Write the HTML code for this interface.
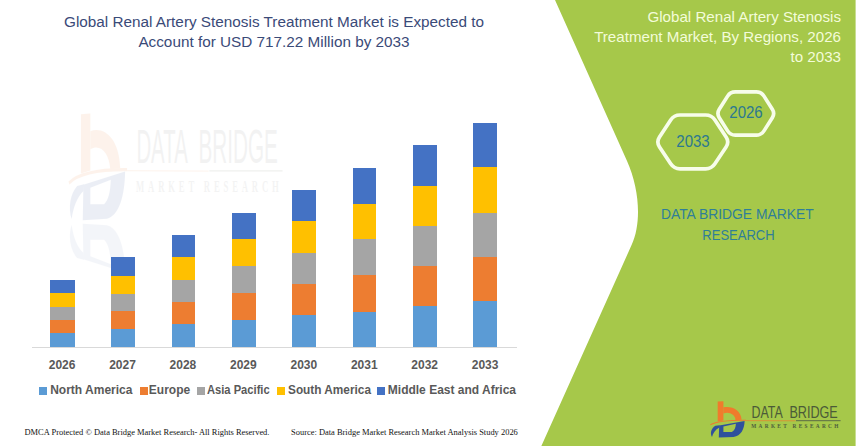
<!DOCTYPE html>
<html>
<head>
<meta charset="utf-8">
<style>
html,body{margin:0;padding:0;}
body{width:857px;height:446px;overflow:hidden;position:relative;background:#fff;font-family:"Liberation Sans",Arial,sans-serif;}
.abs{position:absolute;}
#bg{position:absolute;left:0;top:0;}
.title{position:absolute;left:0;width:546px;text-align:center;color:#3a4a78;font-size:15.3px;line-height:19.6px;white-space:nowrap;}
.rt{position:absolute;right:16px;text-align:right;color:#f3fcd9;font-size:15.15px;line-height:20.2px;white-space:nowrap;}
.hx{position:absolute;width:40px;text-align:center;color:#2c7890;font-size:16px;line-height:18px;transform:scaleX(0.94);}
.dbmr{position:absolute;left:637px;width:200px;text-align:center;color:#2f7e98;font-size:15.3px;line-height:20.1px;white-space:nowrap;}
.dbmr span{display:inline-block;}
.bar{position:absolute;width:24px;}
.seg{position:absolute;left:0;width:100%;}
.yr{position:absolute;top:357.5px;width:40px;text-align:center;font-weight:bold;font-size:12px;color:#595959;}
.leg{position:absolute;top:383px;font-weight:bold;font-size:12px;color:#595959;white-space:nowrap;}
.sq{position:absolute;top:387px;width:8px;height:8px;}
.foot{position:absolute;top:427.4px;font-family:"Liberation Serif",serif;font-size:8.45px;color:#111;white-space:nowrap;}
</style>
</head>
<body>
<svg id="bg" width="857" height="446" viewBox="0 0 857 446">
  <path d="M555 0 L626.92 160.65 C639.67 189.12 641.62 222.70 631.79 244.60 L541.36 446 L855.6 446 L855.6 0 Z" fill="#a6c84a"/>
  <!-- watermark -->
<g opacity="0.09" transform="matrix(1.64,0,0,2.96,-1096.06,-1074.43)">
  <path d="M717.7 401.6 L723.4 401.3 L723.4 420.6 L717.7 421.6 Z" fill="#ef7b2c"/>
  <path d="M723.4 407.3 C731.5 405.6 741 409.5 741.6 419.8 L735.6 420.2 C735 414.6 729.6 411.4 723.4 413.4 Z" fill="#ef7b2c"/>
  <path d="M710.4 424.8 C716 421.6 727 420.2 745.8 420.3" fill="none" stroke="#ef7b2c" stroke-width="1.1"/>
  <path d="M745.8 420.6 L795.5 420.8" fill="none" stroke="#ef7b2c" stroke-width="0.405" opacity="0.75"/>
  <path d="M796 420.7 L840.6 420.7" fill="none" stroke="#5d6b47" stroke-width="0.45"/>
  <path fill-rule="evenodd" fill="#2f519c" d="M719.2 425.4 L744.6 420.9 C744.4 429 741 435.8 733.5 436.9 L718.8 437.4 Z M723.4 426.4 L735.9 423.7 C735.6 428 734.4 430.6 731.8 432 L723.4 432 Z"/>
  <path fill="#2f519c" d="M719.6 425.2 L715.4 425.8 C711.2 428.4 709.8 433 712 437 C713 433 715.2 429.6 719.4 427.4 Z"/>
  <text x="751.5" y="418" font-family="Liberation Sans, sans-serif" font-size="16.3" fill="#777" textLength="31.3" lengthAdjust="spacingAndGlyphs">DATA</text>
  <text x="789.4" y="418" font-family="Liberation Sans, sans-serif" font-size="16.3" fill="#777" textLength="48.4" lengthAdjust="spacingAndGlyphs">BRIDGE</text>
  <text x="751.3" y="427.8" font-family="Liberation Serif, serif" font-weight="bold" font-size="5.3" fill="#888" textLength="87" lengthAdjust="spacing">MARKET  RESEARCH</text>
</g>
<g opacity="0.05" transform="matrix(1.64,0,0,-2.96,-1096.06,1518.43)">
  <path fill-rule="evenodd" fill="#2f519c" d="M719.2 425.4 L744.6 420.9 C744.4 429 741 435.8 733.5 436.9 L718.8 437.4 Z M723.4 426.4 L735.9 423.7 C735.6 428 734.4 430.6 731.8 432 L723.4 432 Z"/>
  <path fill="#2f519c" d="M719.6 425.2 L715.4 425.8 C711.2 428.4 709.8 433 712 437 C713 433 715.2 429.6 719.4 427.4 Z"/>
</g>
<g id="logo">
  <path d="M717.7 401.6 L723.4 401.3 L723.4 420.6 L717.7 421.6 Z" fill="#ef7b2c"/>
  <path d="M723.4 407.3 C731.5 405.6 741 409.5 741.6 419.8 L735.6 420.2 C735 414.6 729.6 411.4 723.4 413.4 Z" fill="#ef7b2c"/>
  <path d="M710.4 424.8 C716 421.6 727 420.2 745.8 420.3" fill="none" stroke="#ef7b2c" stroke-width="1.1"/>
  <path d="M745.8 420.6 L795.5 420.8" fill="none" stroke="#ef7b2c" stroke-width="0.9" opacity="0.75"/>
  <path d="M796 420.7 L840.6 420.7" fill="none" stroke="#5d6b47" stroke-width="1.0"/>
  <path fill-rule="evenodd" fill="#2f519c" d="M719.2 425.4 L744.6 420.9 C744.4 429 741 435.8 733.5 436.9 L718.8 437.4 Z M723.4 426.4 L735.9 423.7 C735.6 428 734.4 430.6 731.8 432 L723.4 432 Z"/>
  <path fill="#2f519c" d="M719.6 425.2 L715.4 425.8 C711.2 428.4 709.8 433 712 437 C713 433 715.2 429.6 719.4 427.4 Z"/>
  <text x="751.5" y="418" font-family="Liberation Sans, sans-serif" font-size="16.3" fill="#4b5a38" textLength="31.3" lengthAdjust="spacingAndGlyphs">DATA</text>
  <text x="789.4" y="418" font-family="Liberation Sans, sans-serif" font-size="16.3" fill="#4b5a38" textLength="48.4" lengthAdjust="spacingAndGlyphs">BRIDGE</text>
  <text x="751.3" y="427.8" font-family="Liberation Serif, serif" font-weight="bold" font-size="5.3" fill="#4f5d3d" textLength="87" lengthAdjust="spacing">MARKET  RESEARCH</text>
</g>
  <!-- hexagons -->
  <path d="M659.51 136.90 L670.69 120.00 Q674.00 115.00 680.00 115.00 L705.60 115.00 Q711.60 115.00 714.91 120.00 L726.09 136.90 Q729.40 141.90 726.09 146.90 L714.91 163.80 Q711.60 168.80 705.60 168.80 L680.00 168.80 Q674.00 168.80 670.69 163.80 L659.51 146.90 Q656.20 141.90 659.51 136.90 Z" fill="none" stroke="#f7fdea" stroke-width="3.7"/>
  <path d="M719.28 109.28 L727.62 96.12 Q730.30 91.90 735.30 91.90 L756.30 91.90 Q761.30 91.90 763.98 96.12 L772.32 109.28 Q775.00 113.50 772.32 117.72 L763.98 130.88 Q761.30 135.10 756.30 135.10 L735.30 135.10 Q730.30 135.10 727.62 130.88 L719.28 117.72 Q716.60 113.50 719.28 109.28 Z" fill="none" stroke="#f7fdea" stroke-width="3.7"/>
</svg>

<div class="title" style="top:12.2px;left:1px;">Global Renal Artery Stenosis Treatment Market is Expected to<br>Account for USD 717.22 Million by 2033</div>

<div class="rt" style="top:6.65px;">Global Renal Artery Stenosis<br>Treatment Market, By Regions, 2026<br>to 2033</div>

<div class="hx" style="left:673px;top:132.6px;">2033</div>
<div class="hx" style="left:725.6px;top:103.8px;">2026</div>

<div class="dbmr" style="top:204.45px;"><span style="transform:scaleX(0.906)">DATA BRIDGE MARKET</span><br><span style="transform:scaleX(0.851);position:relative;left:1.5px">RESEARCH</span></div>

<!-- axis -->
<div class="abs" style="left:32px;top:347px;width:484.5px;height:1px;background:#d9d9d9;"></div>

<!--BARS-->
<div class="bar" style="left:50.10px;top:280.10px;width:24.70px;height:66.90px;"><div class="seg" style="top:53.10px;height:13.80px;background:#5b9bd5"></div><div class="seg" style="top:39.50px;height:13.60px;background:#ed7d31"></div><div class="seg" style="top:26.90px;height:12.60px;background:#a5a5a5"></div><div class="seg" style="top:12.80px;height:14.10px;background:#ffc000"></div><div class="seg" style="top:0.00px;height:12.80px;background:#4472c4"></div></div>
<div class="bar" style="left:110.50px;top:257.00px;width:24.40px;height:90.00px;"><div class="seg" style="top:71.70px;height:18.30px;background:#5b9bd5"></div><div class="seg" style="top:54.10px;height:17.60px;background:#ed7d31"></div><div class="seg" style="top:36.50px;height:17.60px;background:#a5a5a5"></div><div class="seg" style="top:18.50px;height:18.00px;background:#ffc000"></div><div class="seg" style="top:0.00px;height:18.50px;background:#4472c4"></div></div>
<div class="bar" style="left:172.00px;top:235.10px;width:23.10px;height:111.90px;"><div class="seg" style="top:89.40px;height:22.50px;background:#5b9bd5"></div><div class="seg" style="top:66.70px;height:22.70px;background:#ed7d31"></div><div class="seg" style="top:44.90px;height:21.80px;background:#a5a5a5"></div><div class="seg" style="top:21.50px;height:23.40px;background:#ffc000"></div><div class="seg" style="top:0.00px;height:21.50px;background:#4472c4"></div></div>
<div class="bar" style="left:232.00px;top:213.20px;width:23.90px;height:133.80px;"><div class="seg" style="top:106.40px;height:27.40px;background:#5b9bd5"></div><div class="seg" style="top:80.20px;height:26.20px;background:#ed7d31"></div><div class="seg" style="top:53.20px;height:27.00px;background:#a5a5a5"></div><div class="seg" style="top:25.40px;height:27.80px;background:#ffc000"></div><div class="seg" style="top:0.00px;height:25.40px;background:#4472c4"></div></div>
<div class="bar" style="left:292.40px;top:190.15px;width:23.20px;height:156.85px;"><div class="seg" style="top:125.35px;height:31.50px;background:#5b9bd5"></div><div class="seg" style="top:93.55px;height:31.80px;background:#ed7d31"></div><div class="seg" style="top:62.75px;height:30.80px;background:#a5a5a5"></div><div class="seg" style="top:31.05px;height:31.70px;background:#ffc000"></div><div class="seg" style="top:0.00px;height:31.05px;background:#4472c4"></div></div>
<div class="bar" style="left:352.70px;top:168.10px;width:23.50px;height:178.90px;"><div class="seg" style="top:143.50px;height:35.40px;background:#5b9bd5"></div><div class="seg" style="top:107.30px;height:36.20px;background:#ed7d31"></div><div class="seg" style="top:71.40px;height:35.90px;background:#a5a5a5"></div><div class="seg" style="top:35.60px;height:35.80px;background:#ffc000"></div><div class="seg" style="top:0.00px;height:35.60px;background:#4472c4"></div></div>
<div class="bar" style="left:412.90px;top:145.10px;width:23.70px;height:201.90px;"><div class="seg" style="top:161.30px;height:40.60px;background:#5b9bd5"></div><div class="seg" style="top:121.30px;height:40.00px;background:#ed7d31"></div><div class="seg" style="top:80.70px;height:40.60px;background:#a5a5a5"></div><div class="seg" style="top:40.70px;height:40.00px;background:#ffc000"></div><div class="seg" style="top:0.00px;height:40.70px;background:#4472c4"></div></div>
<div class="bar" style="left:473.10px;top:123.10px;width:23.70px;height:223.90px;"><div class="seg" style="top:178.30px;height:45.60px;background:#5b9bd5"></div><div class="seg" style="top:133.70px;height:44.60px;background:#ed7d31"></div><div class="seg" style="top:90.10px;height:43.60px;background:#a5a5a5"></div><div class="seg" style="top:44.10px;height:46.00px;background:#ffc000"></div><div class="seg" style="top:0.00px;height:44.10px;background:#4472c4"></div></div>
<!--/BARS-->

<div class="yr" style="left:42.10px;">2026</div>
<div class="yr" style="left:102.53px;">2027</div>
<div class="yr" style="left:162.96px;">2028</div>
<div class="yr" style="left:223.39px;">2029</div>
<div class="yr" style="left:283.82px;">2030</div>
<div class="yr" style="left:344.25px;">2031</div>
<div class="yr" style="left:404.68px;">2032</div>
<div class="yr" style="left:465.11px;">2033</div>

<div class="sq" style="left:39px;background:#5b9bd5"></div><div class="leg" style="left:50.2px;">North America</div>
<div class="sq" style="left:139.5px;background:#ed7d31"></div><div class="leg" style="left:148.8px;">Europe</div>
<div class="sq" style="left:196.5px;background:#a5a5a5"></div><div class="leg" style="left:206.9px;transform:scaleX(0.93);transform-origin:0 0;">Asia Pacific</div>
<div class="sq" style="left:277px;background:#ffc000"></div><div class="leg" style="left:287.5px;transform:scaleX(0.985);transform-origin:0 0;">South America</div>
<div class="sq" style="left:377px;background:#4472c4"></div><div class="leg" style="left:387.8px;">Middle East and Africa</div>

<div class="foot" style="left:24.5px;">DMCA Protected © Data Bridge Market Research- All Rights Reserved.</div>
<div class="foot" style="left:291px;">Source: Data Bridge Market Research Market Analysis Study 2026</div>

</body>
</html>
